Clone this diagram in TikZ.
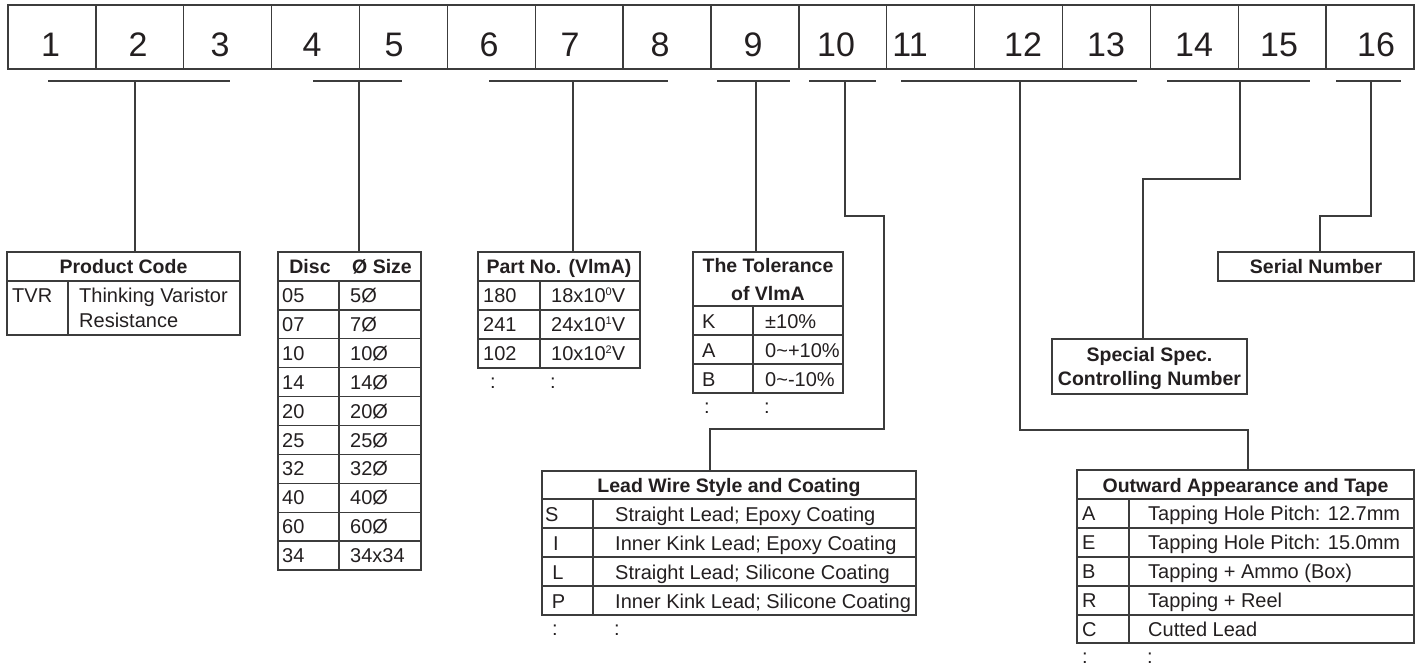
\documentclass[tikz,border=0pt]{standalone}
\usepackage{fontspec}
\setmainfont{Liberation Sans}
\definecolor{lc}{HTML}{3C3C3C}
\definecolor{tc}{HTML}{231F20}
\tikzset{
  ln/.style={line width=1.3pt, draw=lc},
  tbox/.style={draw=lc, line width=1.3pt, inner sep=0pt, outer sep=0pt, anchor=north west},
  rt/.style={font=\fontsize{20}{22}\selectfont, text=tc, inner sep=0pt, anchor=base west},
  bt/.style={font=\fontsize{19.5}{24}\selectfont\bfseries, text=tc, inner sep=0pt, anchor=base},
  num/.style={font=\fontsize{34}{36}\selectfont, text=tc, inner sep=0pt, anchor=base},
  dot/.style={font=\fontsize{20}{22}\selectfont, text=tc, inner sep=0pt, anchor=base},
}
\newcommand\myexp[1]{\raisebox{7pt}{\fontsize{11}{11}\selectfont #1}}
\begin{document}
\begin{tikzpicture}[x=1pt,y=-1pt]
\useasboundingbox (0,0) rectangle (1421,665);

% ---- top strip of 16 cells
\foreach \i in {1,...,16}{
  \node[tbox, minimum width=87.875pt, minimum height=64pt] (c\i) at ({8+(\i-1)*87.875},5) {};
}
\foreach \i/\x in {1/50.5,2/138,3/220,4/312,5/394,6/489,7/570,8/660,9/753,10/836,11/910,12/1023,13/1106,14/1194,15/1279,16/1376}{
  \node[num] (n\i) at (\x,56) {\i};
}

% ---- brackets
\foreach \k/\l/\m/\r in {1/48/135/230, 2/313/359/402, 3/489/573/668, 4/717/756/790, 5/809/845/876, 6/901/1020/1137, 7/1167/1240/1310, 8/1336/1371/1401}{
  \coordinate (b\k l) at (\l,81);
  \coordinate (b\k m) at (\m,81);
  \coordinate (b\k r) at (\r,81);
  \draw[ln] (b\k l) -- (b\k r);
}

% ---- Product Code
\node[tbox, minimum width=233pt, minimum height=83pt] (pc) at (7,252) {};
\draw[ln] (7,281) -- (240,281) (68,281) -- (68,335);
\node[bt] (pch) at (123.5,273.5) {Product Code};
\node[rt] (pc1) at (12,302) {TVR};
\node[rt] (pc2) at (79,302) {Thinking Varistor};
\node[rt] (pc3) at (79,327) {Resistance};

% ---- Disc size
\node[tbox, minimum width=143pt, minimum height=318pt] (dc) at (278,252) {};
\foreach \i in {0,...,9}{ \draw[ln] (278,{281+28.9*\i}) -- (421,{281+28.9*\i}); }
\draw[ln] (339,281) -- (339,570);
\node[bt] (dch1) at (310,273) {Disc};
\node[bt] (dch2) at (382,273) {Ø Size};
\foreach \a/\b [count=\i from 0] in {05/5Ø,07/7Ø,10/10Ø,14/14Ø,20/20Ø,25/25Ø,32/32Ø,40/40Ø,60/60Ø,34/34x34}{
  \node[rt] (da\i) at (282,{281+28.9*\i+21.5}) {\a};
  \node[rt] (db\i) at (350,{281+28.9*\i+21.5}) {\b};
}

% ---- Part No.
\node[tbox, minimum width=162pt, minimum height=116pt] (pn) at (478,252) {};
\draw[ln] (478,281) -- (640,281) (478,310) -- (640,310) (478,339) -- (640,339) (540,281) -- (540,368);
\node[bt] (pnh) at (559,273) {Part No. (VlmA)};
\node[rt] (pa1) at (483,302.5) {180};
\node[rt] (pb1) at (551,302.5) {18x10\myexp{0}V};
\node[rt] (pa2) at (483,331.5) {241};
\node[rt] (pb2) at (551,331.5) {24x10\myexp{1}V};
\node[rt] (pa3) at (483,360.5) {102};
\node[rt] (pb3) at (551,360.5) {10x10\myexp{2}V};
\node[dot] (pd1) at (493,388) {:};
\node[dot] (pd2) at (553,388) {:};

% ---- Tolerance
\node[tbox, minimum width=150pt, minimum height=141pt] (tl) at (693,252) {};
\draw[ln] (693,306) -- (843,306) (693,335) -- (843,335) (693,364) -- (843,364) (753,306) -- (753,393);
\node[bt] (tlh1) at (768,272.5) {The Tolerance};
\node[bt] (tlh2) at (768,300) {of VlmA};
\node[rt] (ta1) at (702,328.5) {K};
\node[rt] (tb1) at (765,328.5) {±10\%};
\node[rt] (ta2) at (702,357) {A};
\node[rt] (tb2) at (765,357) {0\textasciitilde+10\%};
\node[rt] (ta3) at (702,386) {B};
\node[rt] (tb3) at (765,386) {0\textasciitilde-10\%};
\node[dot] (td1) at (707,413) {:};
\node[dot] (td2) at (767,413) {:};

% ---- Lead Wire
\node[tbox, minimum width=374pt, minimum height=144pt] (lw) at (542,471) {};
\draw[ln] (542,499) -- (916,499) (542,528) -- (916,528) (542,557) -- (916,557) (542,586) -- (916,586) (593,499) -- (593,615);
\node[bt] (lwh) at (729,492.5) {Lead Wire Style and Coating};
\node[rt] (la1) at (545,521) {S};
\node[dot] (la2) at (556,550.5) {I};
\node[dot] (la3) at (558,579.5) {L};
\node[dot] (la4) at (558.5,608) {P};
\node[rt] (lb1) at (615,521) {Straight Lead; Epoxy Coating};
\node[rt] (lb2) at (615,550.5) {Inner Kink Lead; Epoxy Coating};
\node[rt] (lb3) at (615,579.5) {Straight Lead; Silicone Coating};
\node[rt] (lb4) at (615,608) {Inner Kink Lead; Silicone Coating};
\node[dot] (ld1) at (555,635) {:};
\node[dot] (ld2) at (617,635) {:};

% ---- Outward Appearance
\node[tbox, minimum width=337pt, minimum height=173pt] (ow) at (1077,470) {};
\foreach \y in {499,528,557,586,615}{ \draw[ln] (1077,\y) -- (1414,\y); }
\draw[ln] (1129,499) -- (1129,643);
\node[bt] (owh) at (1245.5,492) {Outward Appearance and Tape};
\foreach \a/\b [count=\i from 0] in {A/Tapping Hole Pitch: 12.7mm,E/Tapping Hole Pitch: 15.0mm,B/Tapping + Ammo (Box),R/Tapping + Reel,C/Cutted Lead}{
  \node[rt] (oa\i) at (1082,{499+29*\i+21.5}) {\a};
  \node[rt] (ob\i) at (1148,{499+29*\i+21.5}) {\b};
}
\node[dot] (od1) at (1085,663) {:};
\node[dot] (od2) at (1150,663) {:};

% ---- Serial Number / Special Spec.
\node[tbox, minimum width=196pt, minimum height=29pt] (sn) at (1218,252) {};
\node[bt] (snt) at (1316,273.5) {Serial Number};
\node[tbox, minimum width=195pt, minimum height=55pt] (ss) at (1052,339) {};
\node[bt] (sst1) at (1149.5,361) {Special Spec.};
\node[bt] (sst2) at (1149.5,385) {Controlling Number};

% ---- connectors
\draw[ln] (b1m) -- (b1m |- pc.north);
\draw[ln] (b2m) -- (b2m |- dc.north);
\draw[ln] (b3m) -- (b3m |- pn.north);
\draw[ln] (b4m) -- (b4m |- tl.north);
\coordinate (j5a) at (884,216);
\coordinate (j5b) at (710,429);
\draw[ln] (b5m) |- (j5a) |- (j5b) -- (j5b |- lw.north);
\coordinate (j6a) at (1248,430);
\draw[ln] (b6m) |- (j6a) -- (j6a |- ow.north);
\coordinate (j7a) at (1143,179);
\draw[ln] (b7m) |- (j7a) -- (j7a |- ss.north);
\coordinate (j8a) at (1320,216);
\draw[ln] (b8m) |- (j8a) -- (j8a |- sn.north);
\end{tikzpicture}
\end{document}
